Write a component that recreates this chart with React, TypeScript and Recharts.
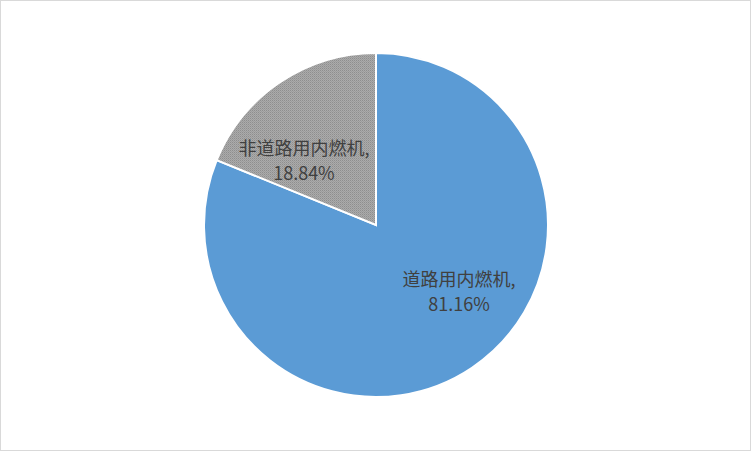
import React from "react";
import { PieChart, Pie, Cell } from "recharts";

const categories = ["道路用内燃机", "非道路用内燃机"];
const shares = [81.16, 18.84];

const fills = ["#5B9BD5", "url(#greyDots)"];
// label anchor offsets from the pie centre, as fractions of the radius
const labelOffsets = [
  [0.483, 0.378],
  [-0.419, -0.378],
];

const data = categories.map((name, i) => ({ name, value: shares[i] }));

const FONT = "'Noto Sans CJK SC', 'Noto Sans', sans-serif";

const renderLabel = (props: any) => {
  const { cx, cy, outerRadius, index, name, percent } = props;
  const [fx, fy] = labelOffsets[index];
  const x = cx + fx * outerRadius;
  const y = cy + fy * outerRadius;
  const pct = (percent * 100).toFixed(2) + "%";
  return (
    <text
      x={x}
      y={y}
      textAnchor="middle"
      fill="#404040"
      fontSize={18}
      fontFamily={FONT}
    >
      <tspan x={x} y={y - 12.5} dominantBaseline="central">
        {name + ","}
      </tspan>
      <tspan x={x} y={y + 12.5} dominantBaseline="central">
        {pct}
      </tspan>
    </text>
  );
};

export default function App() {
  return (
    <>
      <style>{`body{margin:0;}`}</style>
      <div
        style={{
          position: "relative",
          width: 752,
          height: 452,
          background: "#ffffff",
        }}
      >
        <div
          style={{
            position: "absolute",
            left: 0,
            top: 0,
            width: 751,
            height: 451,
            boxSizing: "border-box",
            border: "1px solid #d9d9d9",
          }}
        />
        <div style={{ position: "absolute", left: 0, top: 0 }}>
          <PieChart
            width={752}
            height={452}
            margin={{ top: 0, right: 0, bottom: 0, left: 0 }}
          >
            <defs>
              <pattern
                id="greyDots"
                width="2"
                height="2"
                patternUnits="userSpaceOnUse"
              >
                <rect x="0" y="0" width="2" height="2" fill="#ababab" />
                <rect x="0" y="0" width="1" height="1" fill="#8e8e8e" />
                <rect x="1" y="1" width="1" height="1" fill="#9c9c9c" />
              </pattern>
            </defs>
            <Pie
              data={data}
              dataKey="value"
              nameKey="name"
              cx={376}
              cy={225}
              outerRadius={172}
              startAngle={90}
              endAngle={-270}
              stroke="#ffffff"
              strokeWidth={2}
              label={renderLabel}
              labelLine={false}
              isAnimationActive={false}
            >
              {data.map((d, i) => (
                <Cell key={d.name} fill={fills[i]} />
              ))}
            </Pie>
          </PieChart>
        </div>
      </div>
    </>
  );
}
